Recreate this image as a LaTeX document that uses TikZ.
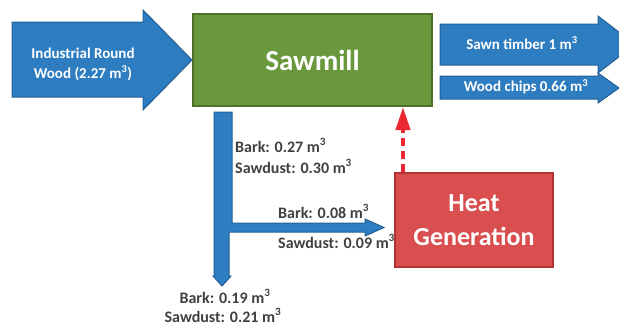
\documentclass[tikz,border=0pt]{standalone}
\usepackage{fontspec}
\setmainfont{Carlito}
\usetikzlibrary{arrows.meta}
\definecolor{flowblue}{RGB}{46,125,192}
\definecolor{flowblueedge}{RGB}{35,95,150}
\definecolor{millgreen}{RGB}{106,152,60}
\definecolor{millgreenedge}{RGB}{78,112,44}
\definecolor{heatred}{RGB}{217,78,78}
\definecolor{heatrededge}{RGB}{178,50,50}
\definecolor{returnred}{RGB}{236,40,50}
\definecolor{labelgray}{RGB}{64,64,64}
% cubic metre unit with a full-height superscript
\newcommand\cubicm{m\textsuperscript{3}}
\begin{document}
\begin{tikzpicture}[x=1pt,y=-1pt,
  flow/.style={fill=flowblue,draw=flowblueedge,line width=1pt,line join=miter},
  process/.style={draw,line width=2pt,text=white,inner sep=0pt,
    font=\bfseries\fontsize{29}{34}\selectfont},
  flowtext/.style={text=white,inner sep=0pt,font=\bfseries\fontsize{15}{20}\selectfont},
  qty/.style={text=labelgray,inner sep=0pt,font=\bfseries\fontsize{16}{20}\selectfont},
  heatlink/.style={draw=returnred,line width=4pt,dash pattern=on 8pt off 5pt,
    -{Triangle[width=14pt,length=23pt]}}]
\useasboundingbox (0,0) rectangle (619,325);
\clip (0,0) rectangle (619,325);

% process boxes
\node[process,fill=millgreen,draw=millgreenedge,minimum width=239pt,minimum height=92pt]
  (sawmill) at (312.5,60) {Sawmill};
\node[process,fill=heatred,draw=heatrededge,minimum width=158pt,minimum height=94pt,
  align=center,font=\bfseries\fontsize{26}{34}\selectfont]
  (heat) at (474,220) {Heat\\Generation};

% raw wood input
\draw[flow] (12,22) -- (143,22) -- (143,10) -- (192,60) -- (143,110) -- (143,97) -- (12,97) -- cycle;
\node[flowtext,align=center] (input) at (83,64) {Industrial Round\\Wood (2.27 \cubicm)};

% products
\draw[flow] (440,24) -- (598,24) -- (598,16) -- (635,44.5) -- (598,73) -- (598,65) -- (440,65) -- cycle;
\node[flowtext] (timber) at (522,43) {Sawn timber 1 \cubicm};
\draw[flow] (440,76) -- (598,76) -- (598,73) -- (619,88) -- (598,103) -- (598,99) -- (440,99) -- cycle;
\node[flowtext] (chips) at (526,87) {Wood chips 0.66 \cubicm};

% residues: split between heat generation and the rest
\draw[flow] (214,112) -- (232,112) -- (232,223) -- (365,223) -- (365,219) -- (384,227.5)
  -- (365,236) -- (365,232) -- (229,232) -- (229,276) -- (231,276) -- (222,286)
  -- (213,276) -- (214,276) -- cycle;

\node[qty,anchor=base west] (bark1) at (235,152) {Bark: 0.27 \cubicm};
\node[qty,anchor=base west] (dust1) at (235,173) {Sawdust: 0.30 \cubicm};
\node[qty,anchor=base west] (bark2) at (278,218) {Bark: 0.08 \cubicm};
\node[qty,anchor=base west] (dust2) at (278,248) {Sawdust: 0.09 \cubicm};
\node[qty,anchor=base] (bark3) at (225,303) {Bark: 0.19 \cubicm};
\node[qty,anchor=base] (dust3) at (223,322) {Sawdust: 0.21 \cubicm};

% heat returned to the sawmill
\coordinate (linkx) at (403,0);
\draw[heatlink] (heat.north -| linkx) -- (sawmill.south -| linkx);
\end{tikzpicture}
\end{document}
